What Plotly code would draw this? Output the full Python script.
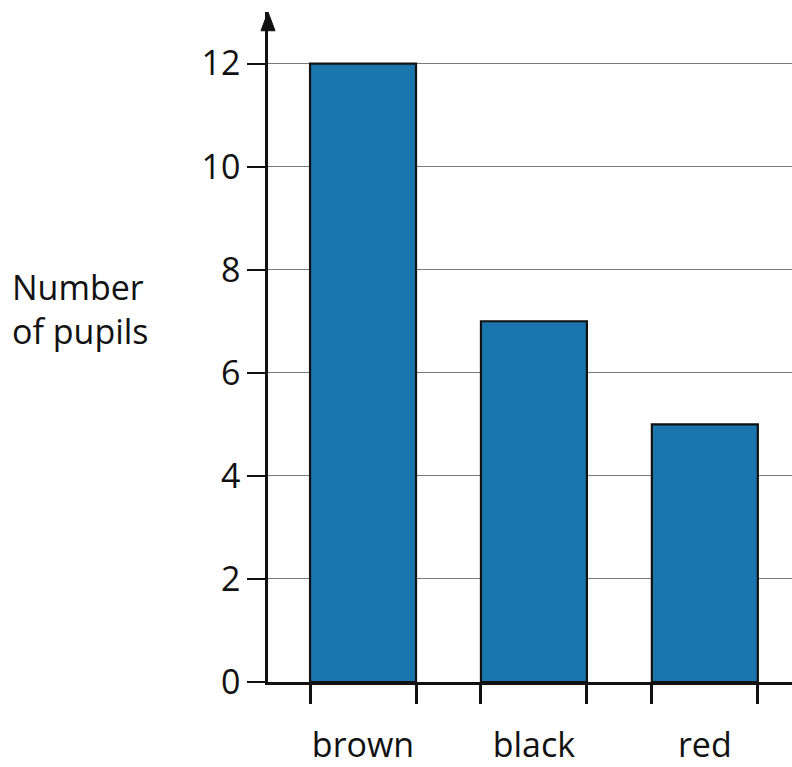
import plotly.graph_objects as go

categories = ["brown", "black", "red"]
pupils = [12, 7, 5]
y_ticks = [0, 2, 4, 6, 8, 10, 12]

bar_width = 0.62
positions = list(range(len(categories)))
edges = []
for p in positions:
    edges += [p - bar_width / 2, p + bar_width / 2]

FONT = "Open Sans"
FS = 34
xr = [-0.556, 2.51]

fig = go.Figure()
fig.add_trace(go.Bar(
    x=positions, y=pupils, width=bar_width,
    marker=dict(color="#1b76ae", line=dict(color="#111", width=2.2)),
    hoverinfo="skip",
))
# invisible trace to activate xaxis2 for edge tick marks
fig.add_trace(go.Scatter(x=edges, y=[0] * len(edges), xaxis="x2", mode="markers",
                         marker=dict(opacity=0), hoverinfo="skip", showlegend=False))

fig.update_layout(
    width=792, height=767,
    margin=dict(l=268, r=0, t=12, b=79),
    paper_bgcolor="white", plot_bgcolor="white",
    showlegend=False,
    font=dict(family=FONT, size=FS, color="#111"),
    xaxis=dict(
        range=xr, tickvals=positions, ticktext=categories,
        ticks="outside", ticklen=31, tickcolor="rgba(0,0,0,0)",
        showline=True, linecolor="#111", linewidth=2.5,
        showgrid=False, zeroline=False,
        tickfont=dict(family=FONT, size=FS, color="#111"),
    ),
    xaxis2=dict(
        range=xr, overlaying="x", anchor="y", side="bottom",
        tickvals=edges, showticklabels=False,
        ticks="outside", ticklen=21, tickwidth=2.5, tickcolor="#111",
        showline=False, showgrid=False, zeroline=False,
    ),
    yaxis=dict(
        range=[0, 13], tickvals=y_ticks,
        ticks="outside", ticklen=18, tickwidth=2, tickcolor="#111",
        showline=True, linecolor="#111", linewidth=2.5,
        showgrid=True, gridcolor="#7a7a7a", gridwidth=1,
        zeroline=False,
        tickfont=dict(family=FONT, size=FS, color="#111"),
    ),
    shapes=[dict(
        type="path", xref="paper", yref="paper",
        path="M -0.0134 0.972 L 0 1.0 L 0.0134 0.972 Z",
        fillcolor="#111", line=dict(color="#111", width=1),
    )],
    annotations=[dict(
        text="Number<br>of pupils", xref="paper", yref="paper",
        x=-0.492, y=0.556, xanchor="left", yanchor="middle", align="left",
        showarrow=False, font=dict(family=FONT, size=FS, color="#111"),
    )],
)

fig.write_html("out.html", config={"displayModeBar": False},
               post_script="document.body.style.margin='0';document.body.style.overflow='hidden';")
